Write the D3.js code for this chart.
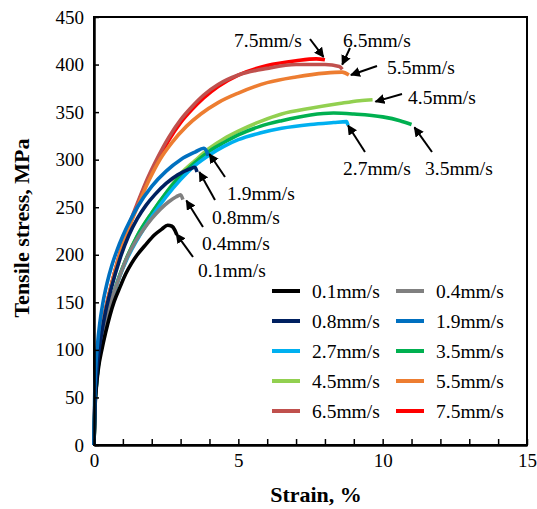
<!DOCTYPE html>
<html><head><meta charset="utf-8">
<script src="https://cdn.jsdelivr.net/npm/d3@7"></script>
<style>body{margin:0;background:#fff}svg{display:block}</style>
</head><body><svg id="c" width="537" height="509"></svg>
<script>
// ---- data ----
const seriesNames = ["0.1mm/s","0.4mm/s","0.8mm/s","1.9mm/s","2.7mm/s","3.5mm/s","4.5mm/s","5.5mm/s","6.5mm/s","7.5mm/s"];
const seriesColors = ["#000000","#808080","#002060","#0070C0","#00B0F0","#00B050","#92D050","#ED7D31","#C0504D","#FF0000"];
const xTickLabels = [0,5,10,15];
const yTickLabels = [0,50,100,150,200,250,300,350,400,450];
// [strain %, stress MPa]
const s01 = [[0,0],[0.03,35],[0.08,60],[0.15,80],[0.27,100],[0.4,118],[0.55,136],[0.7,151],[0.9,166],[1.1,180],[1.3,191],[1.5,200],[1.8,211],[2.1,221],[2.35,227],[2.55,231],[2.7,230],[2.8,226],[2.87,221]];
const s04 = [[0,0],[0.03,40],[0.08,65],[0.15,88],[0.25,108],[0.4,130],[0.6,152],[0.85,174],[1.13,196],[1.4,212],[1.7,226],[2.0,238],[2.3,248],[2.6,256],[2.85,261],[3.0,263],[3.08,258]];
const s08 = [[0,0],[0.03,42],[0.08,70],[0.15,94],[0.25,115],[0.4,140],[0.6,165],[0.9,196],[1.2,220],[1.5,238],[1.8,252],[2.1,263],[2.5,275],[2.9,284],[3.3,290],[3.5,292],[3.57,287]];
const s19 = [[0,0],[0.02,45],[0.06,80],[0.12,105],[0.2,128],[0.3,148],[0.45,170],[0.62,189],[0.8,205],[1.0,220],[1.25,236],[1.5,250],[2.0,272],[2.5,288],[3.0,300],[3.5,308],[3.8,312],[3.9,309],[3.95,304]];
const s27 = [[0,0],[0.03,38],[0.08,62],[0.15,84],[0.25,104],[0.4,127],[0.6,150],[0.85,174],[1.15,196],[1.5,216],[2.0,240],[2.5,261],[3.0,279],[3.5,294],[4.0,305],[4.5,314],[5.0,321],[5.75,328],[6.5,333],[7.5,337],[8.3,339],[8.75,340],[8.8,336]];
const s35 = [[0,0],[0.03,38],[0.08,62],[0.15,84],[0.25,104],[0.4,127],[0.6,150],[0.85,175],[1.15,198],[1.5,220],[2.0,244],[2.5,265],[3.0,283],[3.5,297],[4.0,309],[4.5,318],[5.0,326],[5.75,335],[6.5,341],[7.5,347],[8.3,349],[9.0,348],[10.0,345],[10.6,341],[11.0,337]];
const s45 = [[0,0],[0.03,38],[0.08,62],[0.15,84],[0.25,104],[0.4,127],[0.6,150],[0.85,175],[1.15,198],[1.5,220],[2.0,244],[2.5,265],[3.0,285],[3.5,299],[4.0,312],[4.5,322],[5.0,330],[5.75,340],[6.5,348],[7.5,354],[8.5,359],[9.2,362],[9.65,363]];
const s55 = [[0,0],[0.03,45],[0.08,75],[0.15,98],[0.25,118],[0.4,142],[0.6,168],[0.85,196],[1.15,224],[1.5,250],[1.9,278],[2.3,301],[2.7,318],[3.2,335],[3.7,348],[4.3,360],[5.0,370],[6.0,381],[7.0,387],[8.0,391],[8.6,392],[8.83,389]];
const s65 = [[0,0],[0.03,45],[0.08,75],[0.15,98],[0.25,118],[0.4,142],[0.6,168],[0.85,197],[1.15,226],[1.5,254],[1.85,280],[2.2,302],[2.6,324],[3.0,342],[3.4,356],[3.8,368],[4.3,379],[5.0,389],[6.0,396],[7.0,400],[8.0,400],[8.5,398],[8.6,395]];
const s75 = [[0,0],[0.03,45],[0.08,75],[0.15,98],[0.25,118],[0.4,142],[0.6,168],[0.85,196],[1.15,224],[1.5,252],[1.85,278],[2.2,299],[2.6,321],[3.0,339],[3.4,353],[3.8,365],[4.3,377],[5.0,389],[6.0,399],[7.0,404],[7.7,406],[8.0,405]];
const seriesData = [s01,s04,s08,s19,s27,s35,s45,s55,s65,s75];
// annotation labels and the point (strain, stress) each arrow points at
const annoLabels = ["7.5mm/s","6.5mm/s","5.5mm/s","4.5mm/s","2.7mm/s","3.5mm/s","1.9mm/s","0.8mm/s","0.4mm/s","0.1mm/s"];
const annoTips  = [[7.95,408],[8.6,400],[8.9,389],[9.75,361],[8.8,336],[11.1,334],[4.0,306],[3.65,287],[3.2,257],[2.85,222]];

// ---- layout ----
const FONT = "'Liberation Serif','Times New Roman',Times,'DejaVu Serif',serif";
const svg = d3.select("#c").style("font-family",FONT);
const x = d3.scaleLinear().domain([0,15]).range([94,527]);
const y = d3.scaleLinear().domain([0,450]).range([445,17]);

svg.append("rect").attr("x",x(0)).attr("y",y(450)).attr("width",x(15)-x(0)).attr("height",y(0)-y(450))
  .attr("fill","none").attr("stroke","#000").attr("stroke-width",2);

const line = d3.line().x(d=>x(d[0])).y(d=>y(d[1])).curve(d3.curveMonotoneX);
const drawOrder = [9,8,7,6,5,4,1,0,2,3];
drawOrder.forEach(i=>{
  svg.append("path").attr("d",line(seriesData[i])).attr("fill","none")
    .attr("stroke",seriesColors[i]).attr("stroke-width",3.6).attr("stroke-linejoin","round");
});

const xAxis = d3.axisBottom(x).tickValues(d3.range(0,16,1)).tickSize(-6).tickSizeOuter(0)
  .tickFormat(d=> xTickLabels.includes(d) ? d : "");
const gx = svg.append("g").attr("transform",`translate(0,${y(0)})`).call(xAxis).attr("font-family",null);
gx.select(".domain").attr("stroke","#000").attr("stroke-width",2.5);
gx.selectAll(".tick line").attr("stroke","#000").attr("stroke-width",1.5);
gx.selectAll(".tick text").attr("font-size",19).attr("fill","#000").attr("dy","0.4em").attr("y",14)
  .style("font-family",FONT);
const yAxis = d3.axisLeft(y).tickValues(yTickLabels).tickSize(-5).tickSizeOuter(0).tickPadding(10);
const gy = svg.append("g").attr("transform",`translate(${x(0)},0)`).call(yAxis).attr("font-family",null);
gy.select(".domain").attr("stroke","#000").attr("stroke-width",2.5);
gy.selectAll(".tick line").attr("stroke","#000").attr("stroke-width",1.5);
gy.selectAll(".tick text").attr("font-size",19).attr("fill","#000").style("font-family",FONT);

svg.append("text").attr("x",316).attr("y",502).attr("text-anchor","middle").style("font-family",FONT)
  .attr("font-size",22).attr("font-weight","bold").text("Strain, %");
svg.append("text").attr("transform","translate(29,228) rotate(-90)").attr("text-anchor","middle").style("font-family",FONT)
  .attr("font-size",22).attr("font-weight","bold").text("Tensile stress, MPa");

svg.append("defs").append("marker").attr("id","ah").attr("viewBox","0 0 10 10").attr("refX",9).attr("refY",5)
  .attr("markerWidth",5).attr("markerHeight",5).attr("orient","auto")
  .append("path").attr("d","M0,0 L10,5 L0,10 z").attr("fill","#000");

const annoText = [[234,47],[343,47],[387,74],[408,104],[343,175],[425,175],[227,200],[212,224],[202,250],[198,277]];
const annoTail = [[310,39],[350,48],[377,66],[402,94],[365,152],[432,152],[225,177],[215,200],[203,227],[193,257]];
annoLabels.forEach((lab,i)=>{
  const t = annoTips[i];
  svg.append("line").attr("x1",annoTail[i][0]).attr("y1",annoTail[i][1])
    .attr("x2",x(t[0])).attr("y2",y(t[1])).attr("stroke","#000").attr("stroke-width",2).attr("marker-end","url(#ah)");
  svg.append("text").attr("x",annoText[i][0]).attr("y",annoText[i][1]).attr("font-size",19.5).style("font-family",FONT).text(lab);
});

const legX = [272,396], legY0 = 291, legDy = 30;
seriesNames.forEach((n,i)=>{
  const col = i%2, row = Math.floor(i/2);
  const lx = legX[col], ly = legY0 + row*legDy;
  svg.append("line").attr("x1",lx).attr("x2",lx+28).attr("y1",ly).attr("y2",ly)
    .attr("stroke",seriesColors[i]).attr("stroke-width",4);
  svg.append("text").attr("x",lx+40).attr("y",ly+6.5).attr("font-size",19.5).style("font-family",FONT).text(n);
});
</script></body></html>
